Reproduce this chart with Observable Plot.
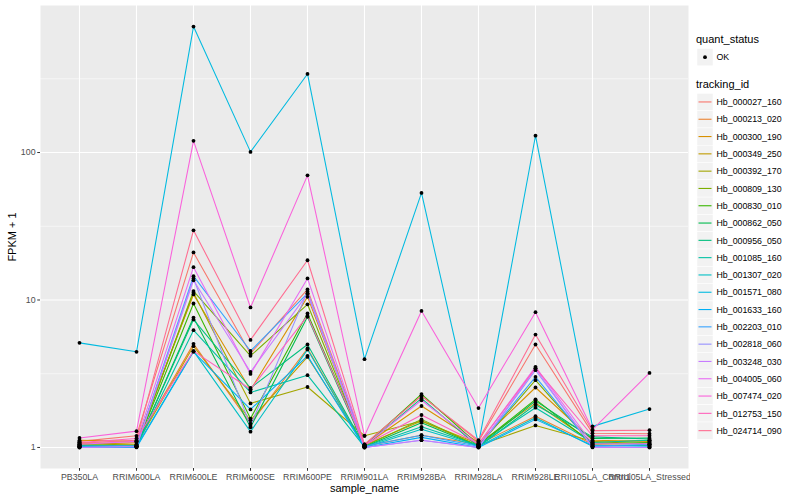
<!DOCTYPE html>
<html><head><meta charset="utf-8">
<script src="https://cdn.jsdelivr.net/npm/d3@7"></script>
<script src="https://cdn.jsdelivr.net/npm/@observablehq/plot@0.6"></script>
<style>
body{margin:0;background:#fff;font-family:"Liberation Sans",Arial,Helvetica,sans-serif;}
#wrap{position:relative;width:800px;height:500px;overflow:hidden;}
#chart{position:absolute;left:0;top:0;}
#legend{position:absolute;left:690px;top:0;}
#chart [aria-label="x-axis tick"], #chart [aria-label="y-axis tick"]{stroke:#333333;}
#chart [aria-label="x-axis tick label"], #chart [aria-label="y-axis tick label"]{fill:#4D4D4D;}
</style>
</head><body>
<div id="wrap"><div id="chart"></div><svg id="legend" width="110" height="500"></svg></div>
<script>
const samples = ["PB350LA","RRIM600LA","RRIM600LE","RRIM600SE","RRIM600PE","RRIM901LA","RRIM928BA","RRIM928LA","RRIM928LE","RRII105LA_Control","RRII105LA_Stressed"];
const trackingIds = ["Hb_000027_160","Hb_000213_020","Hb_000300_190","Hb_000349_250","Hb_000392_170","Hb_000809_130","Hb_000830_010","Hb_000862_050","Hb_000956_050","Hb_001085_160","Hb_001307_020","Hb_001571_080","Hb_001633_160","Hb_002203_010","Hb_002818_060","Hb_003248_030","Hb_004005_060","Hb_007474_020","Hb_012753_150","Hb_024714_090"];
const palette = ["#F8766D","#EA8331","#D89000","#C09B00","#A3A500","#7CAE00","#39B600","#00BB4E","#00BF7D","#00C1A3","#00BFC4","#00BAE0","#00B0F6","#35A2FF","#9590FF","#C77CFF","#E76BF3","#FA62DB","#FF62BC","#FF6C91"];
const quantStatus = ["OK"];
const yTicks = [1, 10, 100];
const yMinor = [3.1623, 31.623, 316.23];

// FPKM + 1 per sample, one array per tracking_id
const hb000027_160 = [1.10, 1.20, 21.0, 4.34, 11.8, 1.05, 2.24, 1.10, 4.99, 1.25, 1.24];
const hb000213_020 = [1.05, 1.08, 5.04, 1.45, 4.69, 1.02, 1.21, 1.05, 1.63, 1.05, 1.07];
const hb000300_190 = [1.12, 1.10, 10.9, 2.45, 10.5, 1.03, 1.91, 1.08, 2.55, 1.12, 1.10];
const hb000349_250 = [1.08, 1.05, 4.86, 1.53, 4.11, 1.04, 1.51, 1.06, 2.00, 1.08, 1.12];
const hb000392_170 = [1.06, 1.04, 11.2, 1.99, 2.57, 1.20, 1.51, 1.03, 1.41, 1.10, 1.05];
const hb000809_130 = [1.03, 1.02, 11.5, 4.18, 9.35, 1.02, 1.55, 1.02, 2.86, 1.04, 1.03];
const hb000830_010 = [1.04, 1.03, 9.47, 1.57, 8.10, 1.03, 2.30, 1.04, 2.12, 1.06, 1.08];
const hb000862_050 = [1.02, 1.01, 7.60, 1.37, 7.70, 1.01, 1.47, 1.02, 2.07, 1.15, 1.16];
const hb000956_050 = [1.03, 1.02, 7.37, 2.53, 4.99, 1.02, 2.15, 1.01, 1.95, 1.18, 1.14];
const hb001085_160 = [1.02, 1.01, 6.24, 2.36, 3.09, 1.01, 1.38, 1.03, 1.86, 1.08, 1.12];
const hb001307_020 = [1.01, 1.01, 4.50, 1.28, 4.61, 1.00, 1.33, 1.02, 1.59, 1.02, 1.04];
const hb001571_080 = [5.12, 4.45, 715, 101, 341, 3.97, 53.2, 1.05, 130, 1.39, 1.82];
const hb001633_160 = [1.00, 1.00, 4.45, 1.81, 4.18, 1.00, 1.17, 1.00, 1.55, 1.03, 1.02];
const hb002203_010 = [1.02, 1.03, 14.5, 4.51, 11.1, 1.02, 1.21, 1.02, 3.01, 1.02, 1.05];
const hb002818_060 = [1.00, 1.02, 14.0, 1.40, 11.4, 1.00, 1.12, 1.00, 3.34, 1.01, 1.00];
const hb003248_030 = [1.00, 1.01, 13.6, 3.25, 11.0, 1.00, 1.12, 1.00, 3.43, 1.00, 1.00];
const hb004005_060 = [1.05, 1.10, 16.7, 3.15, 14.0, 1.03, 2.09, 1.05, 3.52, 1.06, 1.06];
const hb007474_020 = [1.16, 1.29, 120, 8.90, 70.0, 1.20, 8.43, 1.85, 8.27, 1.32, 3.20];
const hb012753_150 = [1.08, 1.15, 4.50, 2.48, 7.80, 1.04, 1.66, 1.06, 3.45, 1.20, 1.20];
const hb024714_090 = [1.07, 1.12, 29.7, 5.36, 18.6, 1.05, 2.24, 1.12, 5.83, 1.30, 1.31];

const seriesValues = [hb000027_160, hb000213_020, hb000300_190, hb000349_250, hb000392_170, hb000809_130, hb000830_010, hb000862_050, hb000956_050, hb001085_160, hb001307_020, hb001571_080, hb001633_160, hb002203_010, hb002818_060, hb003248_030, hb004005_060, hb007474_020, hb012753_150, hb024714_090];

const rows = trackingIds.flatMap((id, i) => samples.map((s, j) => ({id, sample: s, value: seriesValues[i][j], status: "OK"})));
const ext = d3.extent(rows, d => Math.log10(d.value));
const pad = (ext[1] - ext[0]) * 0.05;
const yDomain = [10 ** (ext[0] - pad), 10 ** (ext[1] + pad)];

const font = '"Liberation Sans", Arial, Helvetica, sans-serif';
const chart = Plot.plot({
  width: 690, height: 500,
  marginLeft: 40, marginRight: 2, marginTop: 5, marginBottom: 32,
  style: {fontFamily: font, fontSize: "8.8px", background: "transparent", color: "black"},
  x: {type: "point", domain: samples, padding: 0.6, label: null},
  y: {type: "log", domain: yDomain, label: null},
  color: {domain: trackingIds, range: palette},
  marks: [
    Plot.frame({fill: "#EBEBEB", stroke: null}),
    Plot.ruleY(yMinor, {stroke: "white", strokeWidth: 0.55}),
    Plot.ruleY(yTicks, {stroke: "white", strokeWidth: 1.1}),
    Plot.ruleX(samples, {stroke: "white", strokeWidth: 1.1}),
    Plot.line(rows, {x: "sample", y: "value", z: "id", stroke: "id", strokeWidth: 1.07}),
    Plot.dot(rows, {x: "sample", y: "value", r: 1.9, fill: "black", stroke: null}),
    Plot.axisY(yTicks, {tickSize: 2.75, tickPadding: 2.2, tickFormat: d => String(d), label: null}),
    Plot.axisX({tickSize: 2.75, tickPadding: 2.2, label: null}),
    Plot.text(["FPKM + 1"], {frameAnchor: "left", dx: -28, rotate: -90, fontSize: 11, textAnchor: "middle", lineAnchor: "middle"}),
    Plot.text(["sample_name"], {frameAnchor: "bottom", dy: 20, fontSize: 11, textAnchor: "middle", lineAnchor: "middle"})
  ]
});
document.getElementById("chart").appendChild(chart);

// legend
const lg = d3.select("#legend").style("font-family", font);
lg.append("text").attr("x", 6).attr("y", 43).attr("font-size", 11).text("quant_status");
quantStatus.forEach((q, i) => {
  const y0 = 48.5 + i * 17.3;
  lg.append("rect").attr("x", 7).attr("y", y0).attr("width", 16).attr("height", 17.3).attr("fill", "#F2F2F2").attr("stroke", "white").attr("stroke-width", 0.5);
  lg.append("circle").attr("cx", 15).attr("cy", y0 + 8.65).attr("r", 1.9).attr("fill", "black");
  lg.append("text").attr("x", 26.5).attr("y", y0 + 11.8).attr("font-size", 8.8).text(q);
});
lg.append("text").attr("x", 6).attr("y", 88).attr("font-size", 11).text("tracking_id");
trackingIds.forEach((id, i) => {
  const y0 = 93.3 + i * 17.3;
  lg.append("rect").attr("x", 7).attr("y", y0).attr("width", 16).attr("height", 17.3).attr("fill", "#F2F2F2").attr("stroke", "white").attr("stroke-width", 0.5);
  lg.append("line").attr("x1", 8.5).attr("x2", 21.5).attr("y1", y0 + 8.65).attr("y2", y0 + 8.65).attr("stroke", palette[i]).attr("stroke-width", 1.1);
  lg.append("text").attr("x", 26.5).attr("y", y0 + 11.8).attr("font-size", 8.8).text(id);
});
</script>
</body></html>
